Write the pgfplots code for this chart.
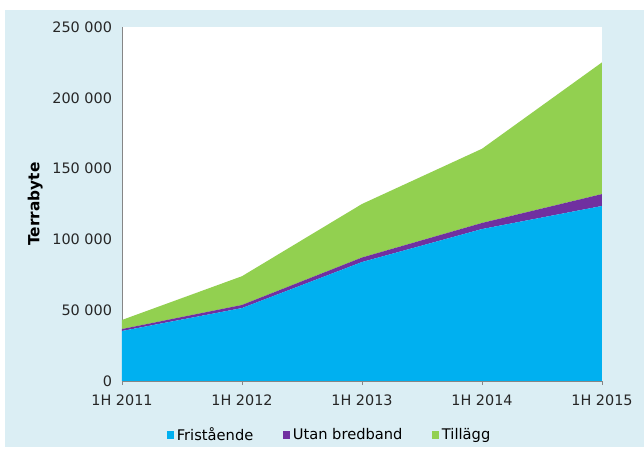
\documentclass[border=0pt]{standalone}
\usepackage{fontspec}
\setmainfont{DejaVu Sans}
\usepackage{pgfplots}
\pgfplotsset{compat=1.18}
\definecolor{panel}{RGB}{219,238,244}
\definecolor{cF}{RGB}{0,176,240}
\definecolor{cU}{RGB}{112,48,160}
\definecolor{cT}{RGB}{146,208,80}
\definecolor{axgray}{RGB}{134,134,134}
\begin{document}
\begin{tikzpicture}
\fill[white] (-91.5pt,-53.25pt) rectangle (391.5pt,285.75pt);
\fill[panel] (-87.75pt,-49.5pt) rectangle (391.5pt,278.25pt);
\begin{axis}[
  at={(0pt,0pt)}, anchor=south west,
  scale only axis, width=360pt, height=265.5pt,
  xmin=0, xmax=4, ymin=0, ymax=250000,
  axis background/.style={fill=white},
  axis x line*=bottom, axis y line*=left,
  axis line style={axgray, line width=0.6pt},
  every inner x axis line/.append style={-}, every inner y axis line/.append style={-},
  xtick={0,1,2,3,4},
  xticklabels={1H 2011,1H 2012,1H 2013,1H 2014,1H 2015},
  ytick={0,50000,100000,150000,200000,250000},
  yticklabels={0,50 000,100 000,150 000,200 000,250 000},
  scaled y ticks=false,
  xtick style={axgray, line width=0.5pt}, tick align=outside, major tick length=3pt,
  ytick style={draw=none},
  tick label style={font=\fontsize{10.8}{12}\selectfont, text=black!85},
  xticklabel style={yshift=-4pt},
  yticklabel style={xshift=-1pt},
  ylabel={\textbf{Terrabyte}},
  ylabel style={at={(axis description cs:-0.181,0.5)}, anchor=center, font=\fontsize{11.5}{13}\selectfont},
  stack plots=y,
  legend style={at={(axis description cs:0.433,-0.153)}, anchor=center, draw=none, fill=none,
    legend columns=3, font=\fontsize{11}{13}\selectfont,
    /tikz/every odd column/.append style={column sep=0pt},
    /tikz/every even column/.append style={column sep=20pt}},
  legend image code/.code={\fill[#1] (0pt,-2.8pt) rectangle (5.6pt,2.8pt);},
]
\addplot[fill=cF, draw=none] coordinates {(0,35300) (1,51500) (2,84000) (3,107300) (4,123600)} \closedcycle;
\addlegendentry{Fristående}
\addplot[fill=cU, draw=none] coordinates {(0,1400) (1,2200) (2,3200) (3,4300) (4,8400)} \closedcycle;
\addlegendentry{Utan bredband}
\addplot[fill=cT, draw=none] coordinates {(0,6400) (1,20300) (2,37800) (3,52400) (4,93000)} \closedcycle;
\addlegendentry{Tillägg}
\end{axis}
\end{tikzpicture}
\end{document}
